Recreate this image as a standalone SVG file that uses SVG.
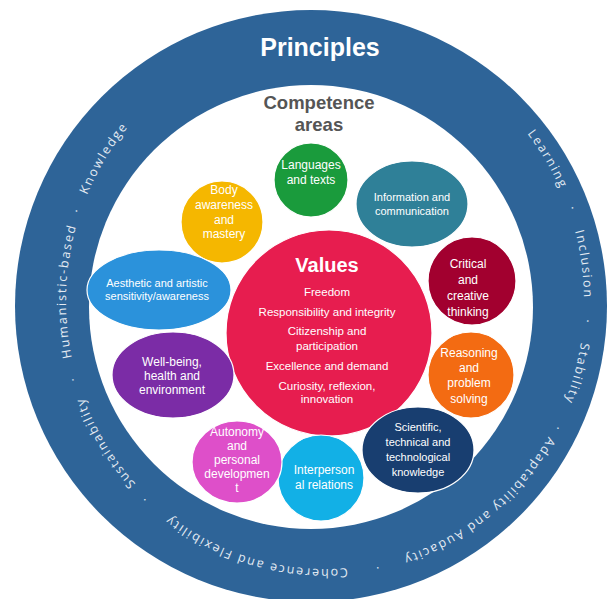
<svg xmlns="http://www.w3.org/2000/svg" width="614" height="599" viewBox="0 0 614 599">
<style>
.ring{font-family:"Open Sans","DejaVu Sans",sans-serif;font-size:12.5px;letter-spacing:1.8px;fill:#e4ebf3;text-anchor:middle}
.lbl{font-family:"Liberation Sans",Arial,sans-serif;font-size:12px;fill:#ffffff;text-anchor:middle}
.sm{font-size:11px}
.val{font-family:"Liberation Sans",Arial,sans-serif;font-size:11.5px;fill:#ffffff;text-anchor:middle}
.node{stroke:#ffffff;stroke-width:1.2}
</style>
<defs>
<path id="ringPath" d="M 325 33 A 259 268 0 1 1 325 569 A 259 268 0 1 1 325 33"/>
</defs>
<rect width="614" height="599" fill="#ffffff"/>
<g id="principles-ring">
<circle cx="311" cy="306" r="296" fill="#2e6498"/>
<circle cx="311" cy="307" r="222" fill="#ffffff"/>
<text x="320" y="56" font-family="Liberation Sans, Arial, sans-serif" font-size="25" font-weight="bold" fill="#ffffff" text-anchor="middle">Principles</text>
<text class="ring"><textPath href="#ringPath" startOffset="16.1%">Learning</textPath></text>
<text class="ring"><textPath href="#ringPath" startOffset="19.4%">·</textPath></text>
<text class="ring"><textPath href="#ringPath" startOffset="22.8%">Inclusion</textPath></text>
<text class="ring"><textPath href="#ringPath" startOffset="26.25%">·</textPath></text>
<text class="ring"><textPath href="#ringPath" startOffset="29.4%">Stability</textPath></text>
<text class="ring"><textPath href="#ringPath" startOffset="32.9%">·</textPath></text>
<text class="ring"><textPath href="#ringPath" startOffset="39.4%">Adaptability and Audacity</textPath></text>
<text class="ring"><textPath href="#ringPath" startOffset="46.9%">·</textPath></text>
<text class="ring"><textPath href="#ringPath" startOffset="54.4%">Coherence and Flexibility</textPath></text>
<text class="ring"><textPath href="#ringPath" startOffset="61.9%">·</textPath></text>
<text class="ring"><textPath href="#ringPath" startOffset="66.0%">Sustainability</textPath></text>
<text class="ring"><textPath href="#ringPath" startOffset="70.3%">·</textPath></text>
<text class="ring"><textPath href="#ringPath" startOffset="75.6%">Humanistic-based</textPath></text>
<text class="ring"><textPath href="#ringPath" startOffset="80.5%">·</textPath></text>
<text class="ring"><textPath href="#ringPath" startOffset="84.0%">Knowledge</textPath></text>
</g>
<g id="competence-title">
<text x="319" y="109" font-family="Liberation Sans, Arial, sans-serif" font-size="18.5" font-weight="bold" fill="#555555" text-anchor="middle">Competence</text>
<text x="319" y="131" font-family="Liberation Sans, Arial, sans-serif" font-size="18.5" font-weight="bold" fill="#555555" text-anchor="middle">areas</text>
</g>
<g id="connectors"></g>
<g id="values">
<circle class="node" cx="329" cy="333" r="103" fill="#e71d4f"/>
<text x="327" y="272" font-family="Liberation Sans, Arial, sans-serif" font-size="20" font-weight="bold" fill="#ffffff" text-anchor="middle">Values</text>
<text class="val" x="327" y="296">Freedom</text>
<text class="val" x="327" y="316">Responsibility and integrity</text>
<text class="val" x="327" y="335">Citizenship and</text>
<text class="val" x="327" y="350">participation</text>
<text class="val" x="327" y="370">Excellence and demand</text>
<text class="val" x="327" y="390">Curiosity, reflexion,</text>
<text class="val" x="327" y="403">innovation</text>
</g>
<g id="languages">
<circle class="node" cx="311" cy="180" r="37" fill="#1a9b3c"/>
<text class="lbl" x="311" y="169">Languages</text>
<text class="lbl" x="311" y="184">and texts</text>
</g>
<g id="information">
<ellipse class="node" cx="412" cy="204" rx="56" ry="43" fill="#2f8098"/>
<text class="lbl sm" x="412" y="201">Information and</text>
<text class="lbl sm" x="412" y="215">communication</text>
</g>
<g id="body">
<circle class="node" cx="222" cy="222" r="41" fill="#f5b700"/>
<text class="lbl" x="224" y="194">Body</text>
<text class="lbl" x="224" y="209">awareness</text>
<text class="lbl" x="224" y="224">and</text>
<text class="lbl" x="224" y="238">mastery</text>
</g>
<g id="critical">
<circle class="node" cx="472" cy="281" r="44" fill="#a2002f"/>
<text class="lbl" x="468" y="268">Critical</text>
<text class="lbl" x="468" y="284">and</text>
<text class="lbl" x="468" y="300">creative</text>
<text class="lbl" x="468" y="316">thinking</text>
</g>
<g id="reasoning">
<circle class="node" cx="471" cy="375" r="43" fill="#f36b12"/>
<text class="lbl" x="469" y="357">Reasoning</text>
<text class="lbl" x="469" y="372">and</text>
<text class="lbl" x="469" y="387">problem</text>
<text class="lbl" x="469" y="403">solving</text>
</g>
<g id="scientific">
<ellipse class="node" cx="418" cy="450" rx="56" ry="43" fill="#183e70"/>
<text class="lbl sm" x="418" y="431">Scientific,</text>
<text class="lbl sm" x="418" y="446">technical and</text>
<text class="lbl sm" x="418" y="461">technological</text>
<text class="lbl sm" x="418" y="476">knowledge</text>
</g>
<g id="interpersonal">
<circle class="node" cx="321" cy="478" r="43" fill="#12b0e6"/>
<text class="lbl" x="324" y="474">Interperson</text>
<text class="lbl" x="324" y="489">al relations</text>
</g>
<g id="autonomy">
<ellipse class="node" cx="237" cy="462" rx="45" ry="41" fill="#de4fc9"/>
<text class="lbl" x="237" y="436">Autonomy</text>
<text class="lbl" x="237" y="450">and</text>
<text class="lbl" x="237" y="464">personal</text>
<text class="lbl" x="237" y="478">developmen</text>
<text class="lbl" x="237" y="492">t</text>
</g>
<g id="wellbeing">
<ellipse class="node" cx="173" cy="375" rx="61" ry="43" fill="#7b2ca6"/>
<text class="lbl" x="172" y="366">Well-being,</text>
<text class="lbl" x="172" y="380">health and</text>
<text class="lbl" x="172" y="394">environment</text>
</g>
<g id="aesthetic">
<ellipse class="node" cx="159" cy="290" rx="72" ry="40" fill="#2b92db"/>
<text class="lbl sm" x="157" y="287">Aesthetic and artistic</text>
<text class="lbl sm" x="157" y="300">sensitivity/awareness</text>
</g>
</svg>
